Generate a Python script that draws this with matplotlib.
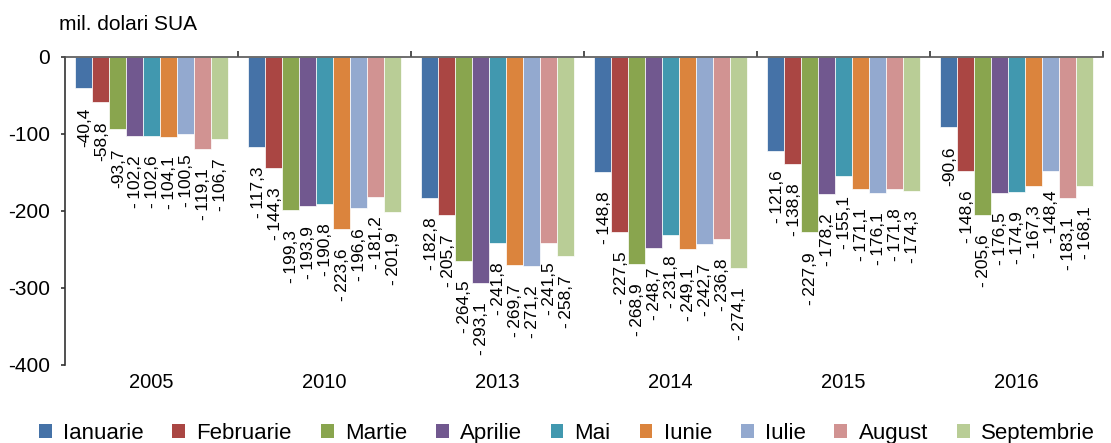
import numpy as np
import matplotlib
matplotlib.use("Agg")
from matplotlib import pyplot as plt
from matplotlib.patches import Patch

plt.rcParams['font.family'] = ['Liberation Sans', 'DejaVu Sans']

years = ['2005', '2010', '2013', '2014', '2015', '2016']
months = ['Ianuarie', 'Februarie', 'Martie', 'Aprilie', 'Mai', 'Iunie',
          'Iulie', 'August', 'Septembrie']

ianuarie = [-40.4, -117.3, -182.8, -148.8, -121.6, -90.6]
februarie = [-58.8, -144.3, -205.7, -227.5, -138.8, -148.6]
martie = [-93.7, -199.3, -264.5, -268.9, -227.9, -205.6]
aprilie = [-102.2, -193.9, -293.1, -248.7, -178.2, -176.5]
mai = [-102.6, -190.8, -241.8, -231.8, -155.1, -174.9]
iunie = [-104.1, -223.6, -269.7, -249.1, -171.1, -167.3]
iulie = [-100.5, -196.6, -271.2, -242.7, -176.1, -148.4]
august = [-119.1, -181.2, -241.5, -236.8, -171.8, -183.1]
septembrie = [-106.7, -201.9, -258.7, -274.1, -174.3, -168.1]

series = [ianuarie, februarie, martie, aprilie, mai, iunie, iulie, august, septembrie]
colors = ['#4572A7', '#AA4643', '#89A54E', '#71588F', '#4198AF',
          '#DB843D', '#93A9CF', '#D19392', '#B9CD96']

def fmt(v):
    s = ('%.1f' % abs(v)).replace('.', ',')
    if abs(v) >= 100:
        return '-\u2009' + s
    return '-' + s

fig = plt.figure(figsize=(11.11, 4.43), dpi=100)
ax = fig.add_axes([0.0585, 0.1761, 0.9343, 0.6953])

x = np.arange(len(years)) + 0.5
w = 0.098
for i, (vals, c) in enumerate(zip(series, colors)):
    pos = x + (i - 4) * w
    ax.bar(pos, vals, width=w, color=c, edgecolor='white', linewidth=0.5)
    for p, v in zip(pos, vals):
        ax.annotate(fmt(v), (p, v), xytext=(1, -14), textcoords='offset points',
                    rotation=90, ha='center', va='top', fontsize=12.5, color='black')

ax.set_xlim(0, len(years))
ax.set_ylim(-400, 0)
ax.set_yticks([0, -100, -200, -300, -400])
ax.set_yticklabels(['0', '-100', '-200', '-300', '-400'], fontsize=15)
ax.tick_params(axis='y', direction='out', length=3, width=1.2, pad=8, color='#333333')

ax.set_xticks(np.arange(1, len(years) + 1))
ax.set_xticks(x, minor=True)
ax.set_xticklabels(years, minor=True, fontsize=14.5)
ax.tick_params(axis='x', which='major', top=True, bottom=False, labelbottom=False,
               direction='out', length=4, width=1.2, color='#333333')
ax.tick_params(axis='x', which='minor', length=0, pad=6)

for s in ['right', 'bottom']:
    ax.spines[s].set_visible(False)
ax.spines['left'].set_linewidth(1.2)
ax.spines['left'].set_color('#333333')
ax.spines['top'].set_linewidth(1.2)
ax.spines['top'].set_color('#555555')

fig.text(0.053, 0.945, 'mil. dolari SUA', fontsize=15, ha='left', va='center')

handles = [Patch(facecolor=c, edgecolor='none') for c in colors]
fig.legend(handles, months, loc='center left', bbox_to_anchor=(0.035, 0.022), ncol=9,
           frameon=False, fontsize=16, borderaxespad=0, borderpad=0,
           handlelength=0.58, handleheight=0.58, handletextpad=0.5, columnspacing=1.3)

fig.savefig('out.png', dpi=100)
plt.close()
